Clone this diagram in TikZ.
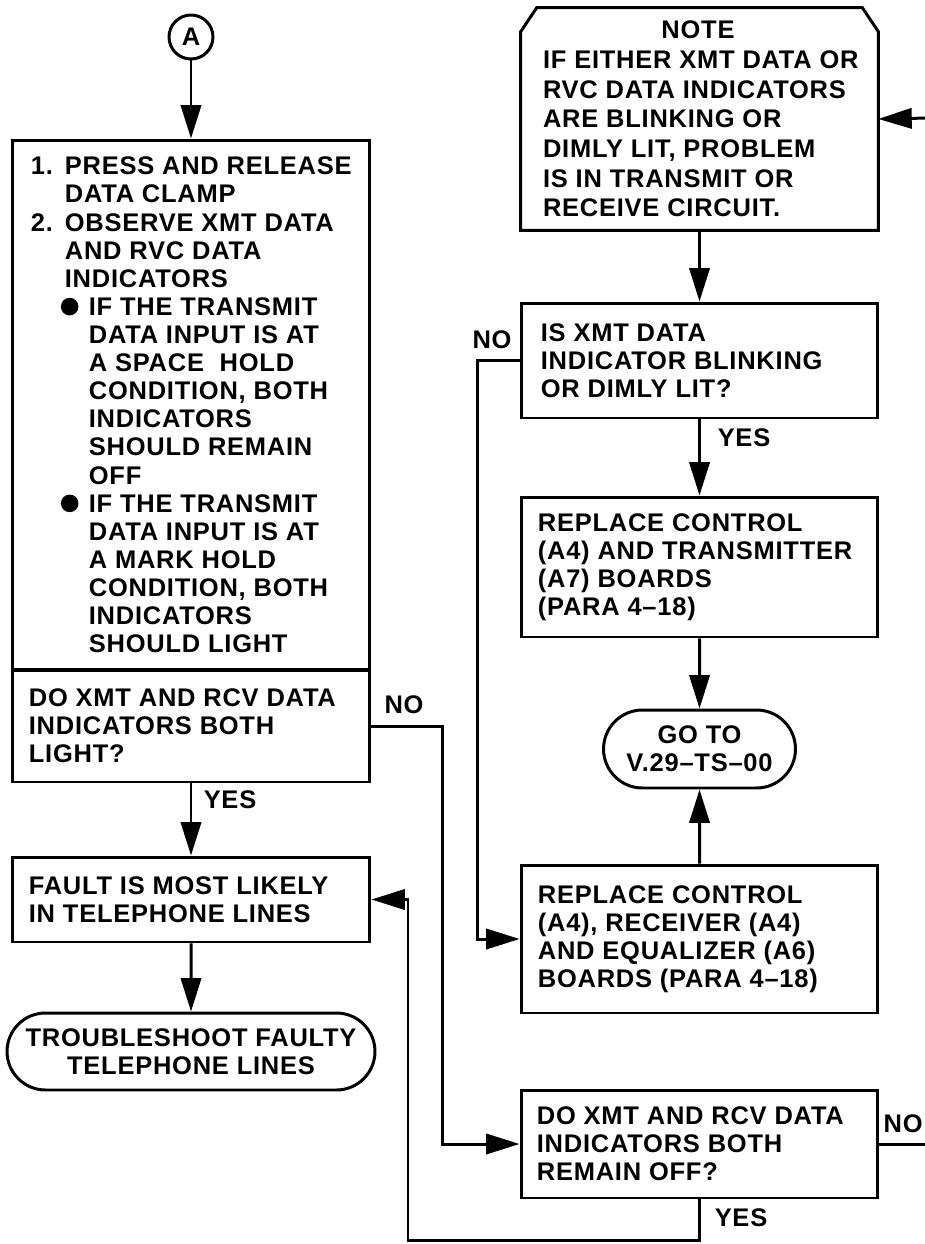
\documentclass[tikz,border=0pt]{standalone}
\usepackage{fontspec}
\setmainfont{Liberation Sans}[LetterSpace=3]
\usetikzlibrary{arrows.meta,shapes.misc}

% indents for numbered and bulleted lines
\newcommand{\stepitem}[1]{\makebox[0.68cm][l]{#1}}
\newcommand{\stepcont}{\hspace*{0.68cm}}
\newcommand{\bigdot}{\tikz[baseline=0pt]\fill (0pt,5pt) circle[radius=5pt];}
\newcommand{\bulitem}{\hspace*{0.6cm}\makebox[0.56cm][l]{\bigdot}}
\newcommand{\bulcont}{\hspace*{1.16cm}}

\begin{document}
\begin{tikzpicture}[x=0.02cm, y=-0.02cm,
  font=\bfseries\fontsize{14.5pt}{16pt}\selectfont,
  box/.style={draw, line width=1.7pt, inner sep=0pt},
  term/.style={draw, line width=1.7pt, rounded rectangle, align=center, inner sep=0pt},
  txt/.style={anchor=west, align=left, inner sep=0pt},
  lbl/.style={inner sep=0pt},
  flow/.style={line width=1.7pt, -{Triangle[length=19pt,width=11.5pt]}},
  link/.style={line width=1.7pt}]
% Scale: 1 unit = 1 px of the 924x1244 sheet, y counted downwards
\useasboundingbox (0,0) rectangle (924,1244);

% Left column
\node[box, circle, minimum size=0.88cm] (A) at (191,37) {A};
\node[box, minimum width=7.16cm, minimum height=10.6cm] (steps) at (191,405) {};
\node[box, minimum width=7.16cm, minimum height=2.24cm] (ask1) at (191,726) {};
\node[box, minimum width=7.16cm, minimum height=1.7cm] (fault) at (191,899.5) {};
\node[term, minimum width=7.36cm, minimum height=1.54cm] (trouble) at (191,1051.5)
  {TROUBLESHOOT FAULTY\\TELEPHONE LINES};

\node[txt] (stepsT) at ([xshift=0.4cm]steps.west) {%
  \stepitem{1.}PRESS AND RELEASE\\
  \stepcont DATA CLAMP\\
  \stepitem{2.}OBSERVE XMT DATA\\
  \stepcont AND RVC DATA\\
  \stepcont INDICATORS\\
  \bulitem IF THE TRANSMIT\\
  \bulcont DATA INPUT IS AT\\
  \bulcont A SPACE\ \ HOLD\\
  \bulcont CONDITION, BOTH\\
  \bulcont INDICATORS\\
  \bulcont SHOULD REMAIN\\
  \bulcont OFF\\
  \bulitem IF THE TRANSMIT\\
  \bulcont DATA INPUT IS AT\\
  \bulcont A MARK HOLD\\
  \bulcont CONDITION, BOTH\\
  \bulcont INDICATORS\\
  \bulcont SHOULD LIGHT};
\node[txt] (ask1T) at ([xshift=0.36cm]ask1.west)
  {DO XMT AND RCV DATA\\INDICATORS BOTH\\LIGHT?};
\node[txt] (faultT) at ([xshift=0.36cm]fault.west)
  {FAULT IS MOST LIKELY\\IN TELEPHONE LINES};

% Right column
\node[inner sep=0pt, minimum width=7.14cm, minimum height=4.44cm] (note) at (699.5,119) {};
\draw[link] (note.south west) -- ([yshift=-0.48cm]note.north west)
  -- ([xshift=0.32cm]note.north west) -- ([xshift=-0.32cm]note.north east)
  -- ([yshift=-0.48cm]note.north east) -- (note.south east) -- cycle;
\node[box, minimum width=7.14cm, minimum height=2.3cm] (ask2) at (699.5,360.5) {};
\node[box, minimum width=7.14cm, minimum height=2.8cm] (repl1) at (699.5,567) {};
\node[term, minimum width=3.84cm, minimum height=1.56cm] (goto) at (699.5,749)
  {GO TO\\V.29--TS--00};
\node[box, minimum width=7.14cm, minimum height=2.96cm] (repl2) at (699.5,939) {};
\node[box, minimum width=7.14cm, minimum height=2.16cm] (ask3) at (699.5,1144) {};

\node[txt, font=\bfseries\fontsize{14.5pt}{16.9pt}\selectfont] (noteT)
  at ([xshift=0.44cm]note.west) {%
  \makebox[6.2cm]{NOTE}\\
  IF EITHER XMT DATA OR\\
  RVC DATA INDICATORS\\
  ARE BLINKING OR\\
  DIMLY LIT, PROBLEM\\
  IS IN TRANSMIT OR\\
  RECEIVE CIRCUIT.};
\node[txt] (ask2T) at ([xshift=0.42cm]ask2.west)
  {IS XMT DATA\\INDICATOR BLINKING\\OR DIMLY LIT?};
\node[txt] (repl1T) at ([xshift=0.36cm]repl1.west)
  {REPLACE CONTROL\\(A4) AND TRANSMITTER\\(A7) BOARDS\\(PARA 4--18)};
\node[txt] (repl2T) at ([xshift=0.36cm]repl2.west)
  {REPLACE CONTROL\\(A4), RECEIVER (A4)\\AND EQUALIZER (A6)\\BOARDS (PARA 4--18)};
\node[txt] (ask3T) at ([xshift=0.34cm]ask3.west)
  {DO XMT AND RCV DATA\\INDICATORS BOTH\\REMAIN OFF?};

% Branch labels
\node[lbl] (no1) at (404,705) {NO};
\node[lbl] (yes1) at (230,800) {YES};
\node[lbl] (no2) at (492,340) {NO};
\node[lbl] (yes2) at (744,438) {YES};
\node[lbl] (yes3) at (741,1218) {YES};
\node[lbl, anchor=east] (no3) at (923,1124) {NO};

% Off-sheet ends and bend
\coordinate (fromB) at (930,118);
\coordinate (toB) at (930,1144);
\coordinate (yesturn) at (408,1240);

% Connectors
\draw[flow] (A) -- (steps);
\draw[flow] (ask1) -- (fault);
\draw[flow] (fault) -- (trouble);
\draw[flow] (ask1.east) -- ++(71,0) |- (ask3.west);
\draw[flow] (fromB) -- (note.east);
\draw[flow] (note) -- (ask2);
\draw[flow] (ask2) -- (repl1);
\draw[flow] (repl1) -- (goto);
\draw[flow] (repl2) -- (goto);
\draw[flow] (ask2.west) -- ++(-42,0) |- (repl2.west);
\draw[link] (ask3.east) -- (toB);
\draw[flow] (ask3.south) |- (yesturn) |- (fault.east);
\end{tikzpicture}
\end{document}
